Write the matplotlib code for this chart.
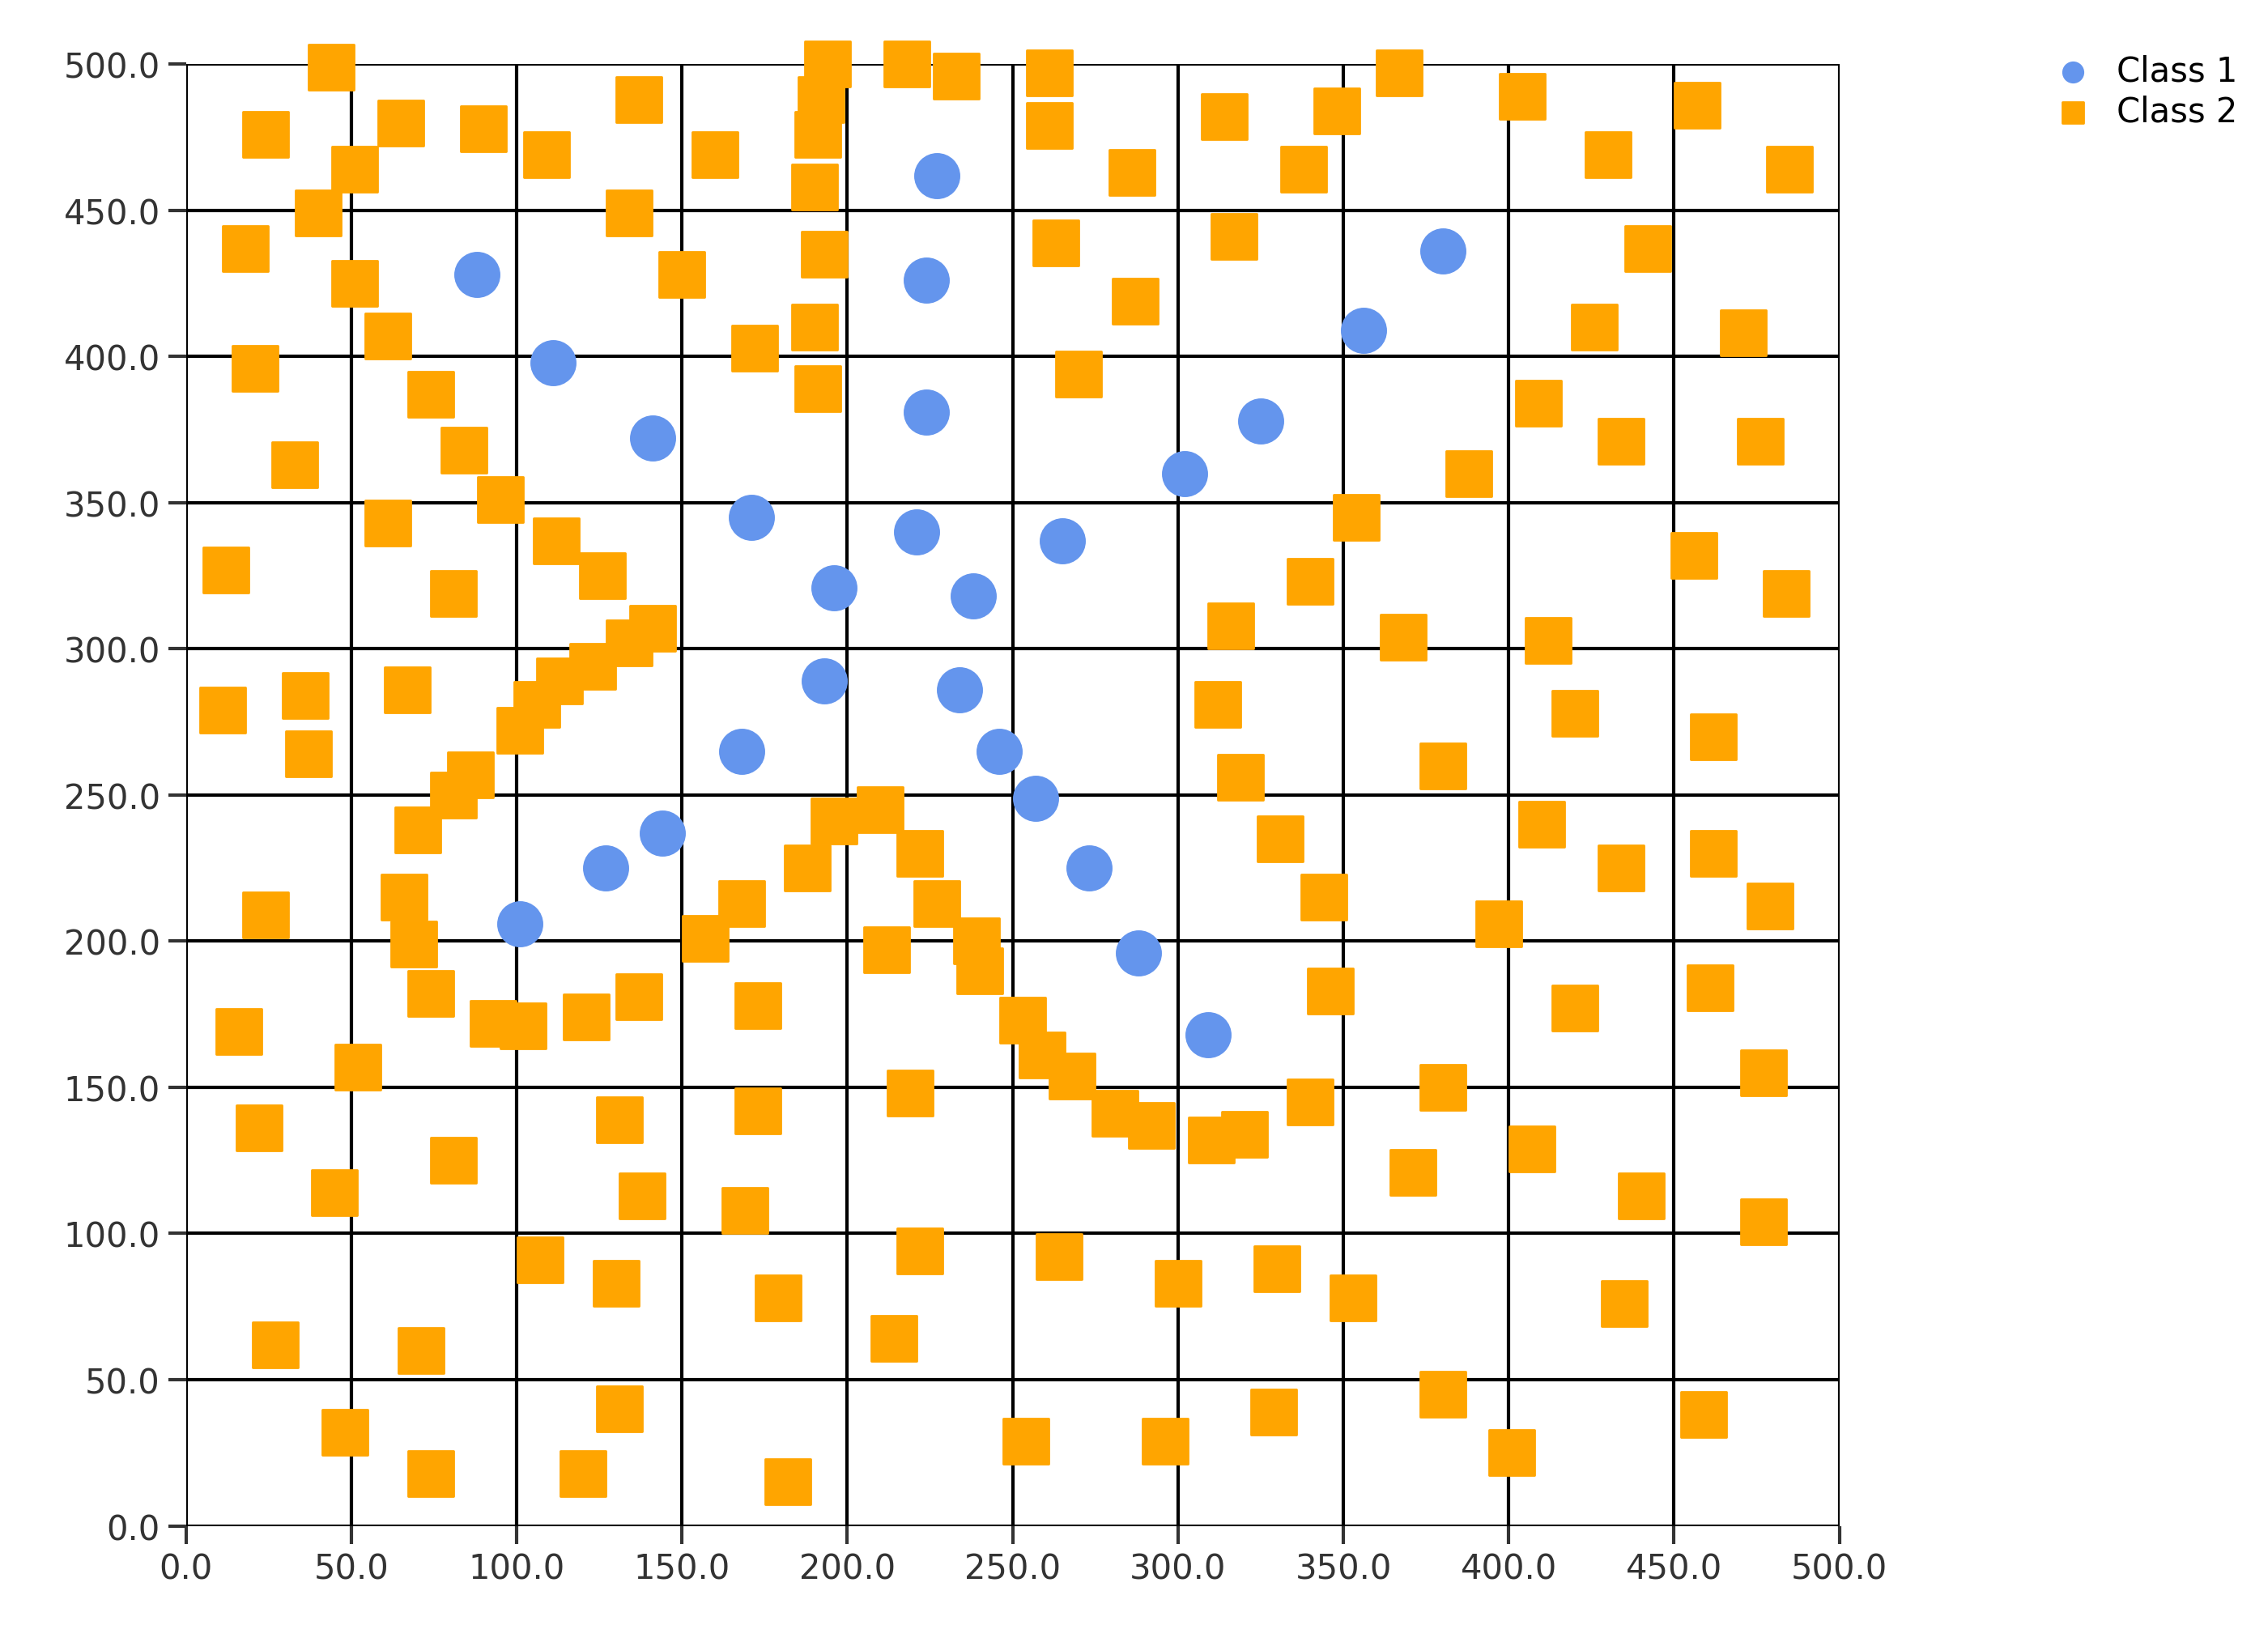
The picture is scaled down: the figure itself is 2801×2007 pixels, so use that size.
import matplotlib
matplotlib.use("Agg")
import matplotlib.pyplot as plt
import numpy as np

c1_x = [88,111,141,227,224,224,171,221,196,238,265,193,234,168,246,257,144,127,273,101,288,309,302,325,356,380]
c1_y = [428,398,372,462,426,381,345,340,321,318,337,289,286,265,265,249,237,225,225,206,196,168,360,378,409,436]

c2 = [(44,499),(24,476),(51,464),(65,480),(40,449),(18,437),(51,425),(61,407),(21,396),(74,387),(33,363),(84,368),(95,351),(61,343),(12,327),(81,319),
(90,478),(109,469),(137,488),(134,449),(150,428),(160,469),(172,403),(112,337),(126,325),(141,307),(134,302),(123,294),(113,289),(106,281),(101,272),
(86,257),(81,250),(70,238),(66,215),(69,199),(74,182),(93,172),(102,171),(121,174),(137,181),(36,284),(37,264),(67,286),(11,279),(24,209),(16,169),
(52,157),(22,136),(81,125),(45,114),(27,62),(71,60),(48,32),(74,18),(107,91),(131,139),(138,113),(130,83),(131,40),(120,18),(157,201),(168,213),
(173,178),(173,142),(169,108),(179,78),(182,15),(188,225),(196,241),(210,245),(222,230),(227,213),(239,200),(240,190),(212,197),(219,148),(222,94),
(214,64),(253,173),(259,161),(268,154),(281,141),(292,137),(310,132),(320,134),(264,92),(300,83),(254,29),(296,29),(329,39),(330,88),(353,78),
(340,145),(346,183),(344,215),(331,235),(319,256),(312,281),(316,308),(340,323),(354,345),(368,304),(380,260),(380,150),(371,121),(380,45),(401,25),
(407,129),(420,177),(397,206),(410,240),(420,278),(412,303),(388,360),(409,384),(426,410),(434,371),(442,437),(430,469),(404,489),(457,486),(485,464),
(471,408),(476,371),(456,332),(484,319),(462,270),(462,230),(479,212),(461,184),(477,155),(477,104),(440,113),(434,225),(435,76),(459,38),(348,484),
(367,497),(338,464),(314,482),(317,441),(287,419),(286,463),(270,394),(263,439),(261,479),(261,497),(233,496),(218,500),(194,500),(192,488),(191,476),
(190,458),(193,435),(190,410),(191,389)]
c2_x = [p[0] for p in c2]
c2_y = [p[1] for p in c2]
ticks = np.arange(0, 501, 50)

fig = plt.figure(figsize=(14.005, 10.04), dpi=200)
ax = fig.add_axes([0.082, 0.061, 0.729, 0.899])
ax.set_xlim(0, 500); ax.set_ylim(0, 500)
ax.set_xticks(ticks); ax.set_yticks(ticks)
ax.set_xticklabels([f"{t:.1f}" for t in ticks]); ax.set_yticklabels([f"{t:.1f}" for t in ticks])
ax.grid(True, color="black", linewidth=1.5)
ax.set_axisbelow(True)
for s in ax.spines.values():
    s.set_visible(False)
ax.tick_params(length=8, width=1.5, labelsize=15, colors="#333333")
ax.scatter(c1_x, c1_y, s=380, marker="o", color="#6495ED", label="Class 1", zorder=3, clip_on=False)
ax.scatter(c2_x, c2_y, s=420, marker="s", color="#FFA500", label="Class 2", zorder=3, clip_on=False)
fig.legend(loc="upper right", bbox_to_anchor=(1.0, 0.985), frameon=False, fontsize=15, markerscale=0.45, handletextpad=0.3, labelspacing=0.2)
fig.savefig("out.png", dpi=200)
